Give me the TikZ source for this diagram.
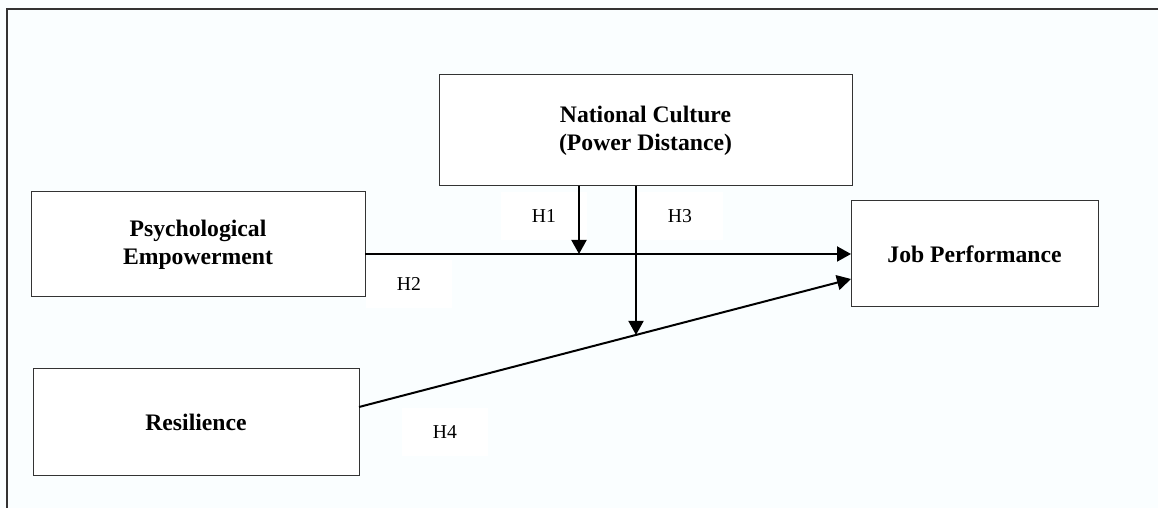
\documentclass[tikz,border=0pt]{standalone}
\usepackage{fontspec}
\setmainfont{Liberation Serif}
\usetikzlibrary{calc,arrows.meta}
\definecolor{paper}{RGB}{250,254,255}
\definecolor{edge}{RGB}{51,51,51}

\begin{document}
\begin{tikzpicture}[x=0.6pt,y=-0.6pt,
        box/.style={draw=edge,fill=white,line width=0.6pt,inner sep=0pt,outer sep=0pt,
            align=center,font=\fontsize{14.2}{16.6}\selectfont\bfseries},
        hyp/.style={fill=white,inner sep=0pt,minimum width=52pt,minimum height=29pt,
            font=\fontsize{11.8}{14}\selectfont},
        link/.style={line width=1.2pt,-{Triangle[length=8.4pt,width=9pt]}}]
        \useasboundingbox (0,0) rectangle (1158,508);
        \fill[paper] (0,0) rectangle (1158,508);
        \draw[edge,line width=0.9pt] (7,508) -- (7,9) -- (1158,9);
        % labels of the hypotheses
        \node[hyp] (h1) at (544,216) {H1};
        \node[hyp] (h2) at (409,284) {H2};
        \node[hyp] (h3) at (680,216) {H3};
        \node[hyp] (h4) at (445,432) {H4};
        % constructs
        \node[box,minimum width=200.4pt,minimum height=63pt] (pe) at (198,244.5) {Psychological\\Empowerment};
        \node[box,minimum width=195.6pt,minimum height=64.2pt] (res) at (196,422.5) {Resilience};
        \node[box,minimum width=247.8pt,minimum height=66.6pt] (nc) at (645.5,130.5) {National Culture\\(Power Distance)};
        \node[box,minimum width=148.2pt,minimum height=63.6pt] (jp) at (974.5,254) {Job Performance};
        \coordinate (m1) at (579,254);
        \coordinate (rs) at ([yshift=9.3pt]res.east);
        \coordinate (je) at ([yshift=-15pt]jp.west);
        \coordinate (m3) at ($(rs)!0.563!(je)$);
        \draw[link] (pe.east |- jp.west) -- (jp.west);
        \draw[link] (rs) -- (je);
        \draw[link] (nc.south -| m1) -- (m1);
        \draw[link] (nc.south -| m3) -- (m3);
    \end{tikzpicture}
\end{document}
